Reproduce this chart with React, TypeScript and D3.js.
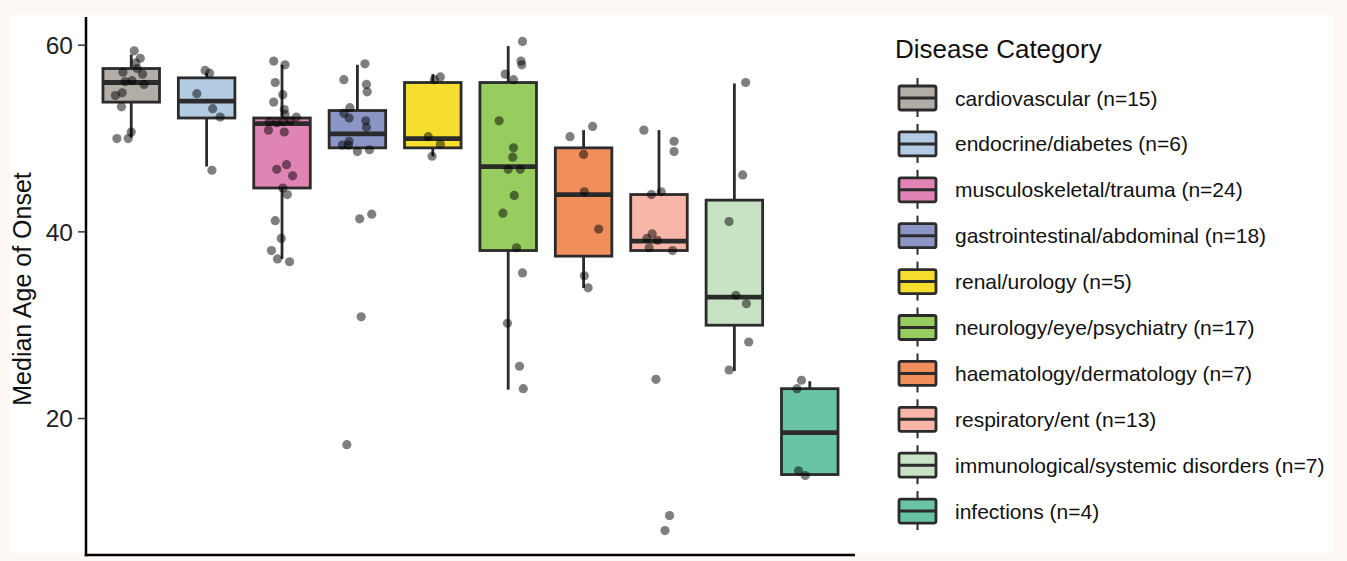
import React from 'react';
import * as d3 from 'd3';

const categories = [
  'cardiovascular', 'endocrine/diabetes', 'musculoskeletal/trauma', 'gastrointestinal/abdominal',
  'renal/urology', 'neurology/eye/psychiatry', 'haematology/dermatology', 'respiratory/ent',
  'immunological/systemic disorders', 'infections',
];
const fills = ['#b3ada8', '#b3cbe3', '#e084b5', '#8c96c6', '#f5de2e', '#96cd5e', '#f08e5c', '#f7b6a8', '#c8e3c3', '#69c3a6'];

// box stats: [whiskerLow, q1, median, q3, whiskerHigh]
const boxStats = [
  [50.1, 53.9, 56.0, 57.5, 59.0],
  [47.0, 52.2, 54.0, 56.5, 57.0],
  [37.1, 44.7, 51.6, 52.2, 57.9],
  [48.9, 49.0, 50.5, 53.0, 57.9],
  [48.1, 49.0, 50.0, 56.0, 56.9],
  [23.1, 38.0, 47.0, 56.0, 59.9],
  [34.0, 37.4, 44.0, 49.0, 50.9],
  [38.0, 38.0, 39.0, 44.0, 50.9],
  [25.1, 30.0, 33.0, 43.4, 55.9],
  [14.0, 14.0, 18.5, 23.2, 24.0],
];

// observed ages per category
const ages = [
  [59.4, 58.6, 58.1, 57.1, 56.9, 56.1, 56.2, 55.8, 54.9, 54.6, 53.4, 50.7, 50.0, 50.0, 57.5],
  [57.3, 57.0, 54.8, 53.2, 52.3, 46.6],
  [58.3, 57.9, 56.0, 54.7, 53.9, 53.1, 52.6, 52.3, 51.9, 51.8, 51.7, 51.8, 50.9, 50.7, 47.2, 46.7, 46.0, 44.7, 44.0, 41.2, 39.3, 38.0, 37.1, 36.8],
  [58.0, 56.3, 55.8, 55.0, 53.3, 52.7, 52.2, 51.9, 51.2, 49.7, 49.3, 49.3, 48.8, 48.6, 41.4, 41.9, 30.9, 17.2],
  [56.3, 56.6, 50.2, 49.4, 48.1],
  [60.4, 58.3, 57.9, 56.9, 56.3, 51.9, 49.0, 48.0, 46.7, 46.7, 43.9, 42.0, 38.3, 35.6, 30.2, 25.6, 23.2],
  [50.2, 51.3, 48.3, 44.3, 40.3, 35.3, 34.0],
  [50.9, 49.7, 48.6, 44.0, 44.3, 39.8, 39.3, 39.1, 38.3, 38.0, 24.2, 9.6, 8.0],
  [56.0, 46.1, 41.1, 33.2, 32.3, 28.2, 25.2],
  [24.1, 23.2, 14.4, 13.9],
];

// horizontal jitter of each point, in category units
const jitter = [
  [0.04, 0.12, 0.06, -0.11, 0.15, -0.08, 0.01, 0.17, -0.12, -0.21, -0.13, 0.0, -0.19, -0.04, 0.08],
  [-0.02, 0.04, -0.13, 0.08, 0.18, 0.07],
  [-0.11, 0.04, -0.09, 0.01, -0.11, 0.03, 0.04, 0.19, 0.11, -0.17, -0.07, 0.02, -0.18, 0.03, 0.06, -0.07, 0.14, 0.01, 0.07, -0.09, -0.01, -0.14, -0.06, 0.1],
  [0.10, -0.18, 0.12, 0.13, -0.10, -0.18, -0.11, 0.11, 0.12, -0.11, -0.20, -0.12, 0.16, 0.0, 0.03, 0.19, 0.05, -0.14],
  [0.02, 0.10, -0.06, 0.10, -0.01],
  [0.19, 0.17, 0.18, -0.04, 0.07, -0.12, 0.07, 0.06, 0.0, 0.16, 0.08, -0.07, 0.11, 0.19, -0.01, 0.15, 0.2],
  [-0.18, 0.12, 0.0, 0.01, 0.2, 0.01, 0.06],
  [-0.2, 0.2, 0.2, -0.1, 0.03, -0.09, -0.16, -0.02, -0.13, 0.18, -0.04, 0.14, 0.08],
  [0.15, 0.11, -0.07, 0.02, 0.16, 0.19, -0.07],
  [-0.11, -0.17, -0.15, -0.06],
];

const yTicks = [20, 40, 60];

const W = 1347;
const H = 561;
const plot = { left: 86, right: 855, top: 17, bottom: 555 };
const font = '"Liberation Sans", Arial, Helvetica, sans-serif';
const ink = '#2b2b2b';

export default function App() {
  const all = ages.flat();
  const lo = d3.min(all)!;
  const hi = d3.max(all)!;
  const pad = (hi - lo) * 0.05;
  const y = d3.scaleLinear().domain([lo - pad, hi + pad]).range([plot.bottom, plot.top]);
  const x = d3.scalePoint<string>().domain(categories).range([plot.left, plot.right]).padding(0.6);
  const step = x.step();
  const bw = step * 0.75;

  const legendX = 899;
  const legendY0 = 98;
  const legendStep = 45.9;

  return (
    <div style={{ position: 'absolute', left: 0, top: 0 }}>
      <svg width={W} height={H} style={{ display: 'block' }} fontFamily={font}>
        <rect width={W} height={H} fill="#fdf7f6" />
        <rect x={10} y={15} width={1323} height={538} fill="#ffffff" />

        {categories.map((c, i) => {
          const cx = x(c)!;
          const [wl, q1, med, q3, wh] = boxStats[i];
          return (
            <g key={c}>
              <line x1={cx} x2={cx} y1={y(q3)} y2={y(wh)} stroke={ink} strokeWidth={2.8} />
              <line x1={cx} x2={cx} y1={y(q1)} y2={y(wl)} stroke={ink} strokeWidth={2.8} />
              <rect x={cx - bw / 2} y={y(q3)} width={bw} height={y(q1) - y(q3)}
                fill={fills[i]} stroke={ink} strokeWidth={2.8} />
              <line x1={cx - bw / 2} x2={cx + bw / 2} y1={y(med)} y2={y(med)} stroke={ink} strokeWidth={4.8} />
            </g>
          );
        })}

        {categories.map((c, i) => (
          <g key={c + '-pts'}>
            {ages[i].map((v, j) => (
              <circle key={j} cx={x(c)! + jitter[i][j] * step} cy={y(v)} r={4.6} fill="#000" fillOpacity={0.5} />
            ))}
          </g>
        ))}

        {/* axes */}
        <line x1={plot.left} x2={plot.left} y1={plot.top} y2={plot.bottom + 1.25} stroke="#000" strokeWidth={2.5} />
        <line x1={plot.left - 1.25} x2={plot.right} y1={plot.bottom} y2={plot.bottom} stroke="#000" strokeWidth={2.5} />
        {yTicks.map(t => (
          <g key={t}>
            <line x1={plot.left - 8} x2={plot.left} y1={y(t)} y2={y(t)} stroke="#333" strokeWidth={1.5} />
            <text x={plot.left - 13} y={y(t)} dy="0.36em" textAnchor="end" fontSize={24.5} fill="#222">{t}</text>
          </g>
        ))}
        <text transform={`translate(31, 289) rotate(-90)`} textAnchor="middle"
          fontSize={25} fill="#111">Median Age of Onset</text>

        {/* legend */}
        <text x={895} y={58} fontSize={26} fill="#111">Disease Category</text>
        {categories.map((c, i) => {
          const cy = legendY0 + i * legendStep;
          const kx = legendX + 18.5;
          return (
            <g key={c + '-leg'}>
              <line x1={kx} x2={kx} y1={cy - 20} y2={cy + 19} stroke={ink} strokeWidth={2} />
              <rect x={legendX} y={cy - 12} width={37} height={24} rx={2} fill={fills[i]} stroke={ink} strokeWidth={2.8} />
              <line x1={legendX} x2={legendX + 37} y1={cy} y2={cy} stroke={ink} strokeWidth={3} />
              <text x={955} y={cy} dy="0.36em" fontSize={21} fill="#111">{`${c} (n=${ages[i].length})`}</text>
            </g>
          );
        })}
      </svg>
    </div>
  );
}
